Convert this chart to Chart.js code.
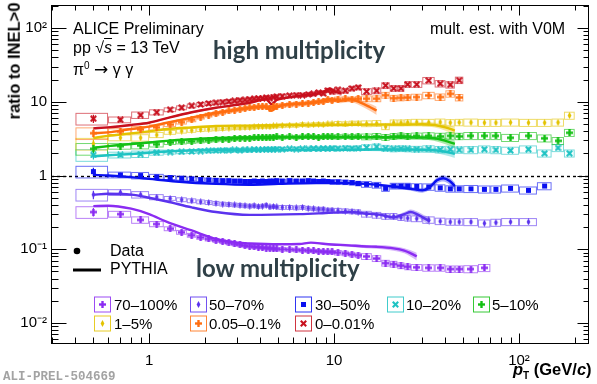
<!DOCTYPE html>
<html>
<head>
<meta charset="utf-8">
<script src="https://cdn.jsdelivr.net/npm/chart.js@4.4.1/dist/chart.umd.min.js"></script>
<style>
  html, body { margin: 0; padding: 0; background: #fff; }
  #wrap { position: relative; width: 597px; height: 384px; overflow: hidden;
          font-family: "Liberation Sans", Arial, sans-serif; color: #000; }
  #c { position: absolute; left: 0; top: 0; }
  .t { position: absolute; white-space: nowrap; line-height: 1; }
  .big { font-family: Lato, "Open Sans", sans-serif; font-weight: 700; color: #2f4047; }
  .leg { font-size: 15px; }
  .arr { font-family: "DejaVu Sans", sans-serif; font-size: 17px; }
</style>
</head>
<body>
<div id="wrap">
  <canvas id="c" width="597" height="384"></canvas>

  <div class="t" style="left:73px;top:21px;font-size:16px;">ALICE Preliminary</div>
  <div class="t" style="left:73px;top:40px;font-size:16px;">pp &#8730;<span style="text-decoration:overline;font-style:italic;">s</span> = 13 TeV</div>
  <div class="t" style="left:73px;top:61px;font-size:16px;">&#960;<sup style="font-size:10px;">0</sup> <span class="arr">&#8594;</span> &#947; &#947;</div>
  <div class="t" style="left:430px;top:21px;font-size:16px;">mult. est. with V0M</div>

  <div class="t big" id="hiLab" data-w="172" style="left:213px;top:38px;font-size:21px;">high multiplicity</div>
  <div class="t big" id="loLab" data-w="164" style="left:196px;top:256px;font-size:21px;">low multiplicity</div>

  <div class="t" style="left:110px;top:243px;font-size:16px;">Data</div>
  <div class="t" style="left:110px;top:261px;font-size:16px;">PYTHIA</div>

  <div class="t leg" style="left:114px;top:297px;">70–100%</div>
  <div class="t leg" style="left:209px;top:297px;">50–70%</div>
  <div class="t leg" style="left:315px;top:297px;">30–50%</div>
  <div class="t leg" style="left:406px;top:297px;">10–20%</div>
  <div class="t leg" style="left:492px;top:297px;">5–10%</div>
  <div class="t leg" style="left:114px;top:316px;">1–5%</div>
  <div class="t leg" style="left:209px;top:316px;">0.05–0.1%</div>
  <div class="t leg" style="left:315px;top:316px;">0–0.01%</div>

  <div class="t" style="left:14px;top:61px;font-size:16.5px;font-weight:bold;transform:translate(-50%,-50%) rotate(-90deg);">ratio to INEL&gt;0</div>
  <div class="t" style="left:513px;top:361px;font-size:16.5px;font-weight:bold;"><i>p</i><sub style="font-size:10px;">T</sub> (GeV/<i>c</i>)</div>
  <div class="t" style="left:3px;top:371px;font-size:12.5px;font-weight:bold;font-family:'Liberation Mono',monospace;color:#a3a3a3;">ALI-PREL-504669</div>
</div>

<script>
// pT bin edges (GeV/c) shared by all multiplicity classes
const binEdges = [0.4,0.6,0.8,1.0,1.2,1.4,1.6,1.8,2.0,2.2,2.4,2.6,2.8,3.0,3.2,3.4,3.6,3.8,4.0,4.2,4.4,4.6,4.8,5.0,
  5.5,6.0,6.5,7.0,7.5,8.0,8.5,9.0,9.5,10,11,12,13,14,16,18,20,22,24,26,30,35,40,45,50,60,70,80,100,125,150,175,200];

// relative statistical and systematic uncertainties per bin
const statErr = [0.13,0.07,0.05,0.04,
  0.03,0.03,0.03,0.03,0.03,0.03,0.03,0.03,0.03,0.03,0.03,0.03,0.03,0.03,0.03,0.03,0.03,0.03,0.03,
  0.03,0.03,0.03,0.03,0.03,0.03,0.03,0.03,0.03,0.03,
  0.035,0.035,0.035,0.035,
  0.04,0.04,0.04,0.04,0.04,0.04,0.04,
  0.05,0.05,0.05,0.05,
  0.06,0.06,0.06,0.06,0.06,0.06,0.06,0.06];
const sysErr = [0.18,0.09,0.1,0.08,
  0.06,0.06,0.06,0.06,0.06,0.06,0.06,0.06,0.06,0.06,0.06,0.06,0.06,0.06,0.06,0.06,0.06,0.06,0.06,
  0.06,0.06,0.06,0.06,0.06,0.06,0.06,0.06,0.06,0.06,
  0.07,0.07,0.07,0.07,
  0.09,0.09,0.09,0.09,0.09,0.09,0.09,
  0.1,0.1,0.1,0.1,
  0.11,0.11,0.11,0.11,0.11,0.11,0.11,0.11];

// measured ratio to INEL>0, one value per bin from the first bin onwards
const ratio70to100 = [0.32,0.3,0.25,0.22,0.19,0.17,0.155,0.145, 0.138,0.132,0.127,0.122,0.118,0.115,0.112,0.11,
  0.108,0.107,0.105,0.104,0.103,0.102,0.101,0.1, 0.099,0.098,0.097,0.096,0.095,0.094,0.093,0.092,
  0.092,0.09,0.088,0.085,0.083,0.08,0.075,0.065, 0.063,0.06,0.058,0.057,0.056,0.056,0.054,0.054, 0.054,0.056];
const ratio50to70 = [0.55,0.59,0.55,0.51,0.49,0.47,0.455,0.44, 0.43,0.42,0.41,0.405,0.4,0.395,0.39,0.385,
  0.39,0.38,0.385,0.395,0.375,0.38,0.375,0.37, 0.37,0.365,0.37,0.36,0.355,0.35,0.35,0.34,
  0.34,0.335,0.33,0.325,0.32,0.3,0.29,0.28, 0.28,0.27,0.265,0.26,0.25,0.24,0.235,0.235, 0.235,0.225,0.23,0.235,0.235];
const ratio30to50 = [1.13,1.02,1.0,0.96,0.94,0.92,0.9,0.88, 0.87,0.86,0.85,0.85,0.84,0.84,0.83,0.83,
  0.84,0.83,0.84,0.83,0.84,0.84,0.85,0.84, 0.85,0.84,0.84,0.85,0.84,0.83,0.84,0.83,
  0.82,0.82,0.81,0.8,0.78,0.76,0.74,0.67, 0.72,0.72,0.72,0.71,0.7,0.68,0.66,0.66, 0.66,0.65,0.65,0.67,0.63,0.72];
const ratio10to20 = [1.9,1.9,1.95,2.05,2.08,2.1,2.12,2.15, 2.17,2.18,2.2,2.2,2.22,2.2,2.23,2.22,
  2.25,2.23,2.25,2.27,2.25,2.27,2.28,2.27, 2.3,2.28,2.3,2.29,2.32,2.3,2.33,2.31,
  2.35,2.32,2.35,2.33,2.35,2.4,2.45,2.35, 2.3,2.32,2.3,2.28,2.3,2.25,2.27,2.22,
  2.22,2.27,2.22,2.18,2.27,2.0,2.37,2.0];
const ratio5to10 = [2.3,2.5,2.55,2.65,2.8,2.85,2.9,2.95, 3.0,3.05,3.1,3.1,3.15,3.2,3.2,3.2,
  3.25,3.25,3.3,3.25,3.3,3.3,3.35,3.3, 3.35,3.3,3.35,3.4,3.35,3.3,3.35,3.4,
  3.35,3.35,3.4,3.35,3.4,3.35,3.4,3.3, 3.4,3.45,3.4,3.45,3.45,3.4,3.45,3.4,
  3.45,3.45,3.45,3.25,3.45,3.2,2.95,3.8];
const ratio1to5 = [2.7,3.25,3.25,3.55,3.85,4.0,4.1,4.2, 4.25,4.3,4.35,4.4,4.45,4.45,4.5,4.5,
  4.55,4.6,4.6,4.65,4.6,4.7,4.7,4.75, 4.8,4.8,4.9,4.85,4.9,4.95,4.9,5.0,
  5.0,5.05,5.0,5.1,5.1,5.05,5.1,4.6, 5.2,5.2,5.25,5.3,5.25,5.3,5.2,5.25,
  5.25,5.2,5.2,5.25,5.2,5.2,5.25,6.5];
const ratio005to01 = [3.75,3.95,4.2,4.5,4.9,5.3,5.7,6.2, 6.6,6.9,7.2,7.5,7.7,7.9,8.1,8.3,
  8.4,8.5,8.6,8.6,8.2,8.6,8.7,8.9, 9.1,9.3,9.4,9.6,9.8,10.0,10.1,10.6,
  10.4,10.8,10.9,10.8,11.0,11.0,11.0,12.3, 11.2,11.3,11.4,11.6,12.2,11.6,12.8,11.4];
const ratio0to001 = [5.9,5.7,6.6,7.2,7.8,8.3,8.8,9.2, 9.5,9.7,9.9,10.1,10.3,10.5,10.6,10.8,
  11.0,11.1,11.2,11.4,11.2,11.6,11.7,11.9, 12.1,12.3,12.3,12.6,12.8,13.3,13.0,14.2,
  13.6,14.5,14.1,15.1,15.6,13.8,14.1,16.6, 15.2,15.2,17.2,17.2,19.4,17.6,17.0,19.6];

// PYTHIA predictions: pT, ratio and relative band half-width
const pyPt70to100 = [0.5,0.6,0.8,1.0,1.25,1.7,2.3,3.0,3.5,5,6.5,7.5,9,12,15,17,21,24,26,28];
const py70to100   = [0.385,0.39,0.355,0.3,0.235,0.18,0.138,0.123,0.12,0.117,0.118,0.123,0.118,0.113,0.109,0.108,0.103,0.096,0.088,0.08];
const pyBand70to100 = [0.02,0.02,0.02,0.02,0.02,0.02,0.02,0.02,0.02,0.02,0.02,0.02,0.03,0.04,0.05,0.06,0.07,0.08,0.1,0.12];

const pyPt50to70 = [0.5,0.6,0.8,1.0,1.25,1.7,2.3,3.5,6.5,9,12,15,18,21,24,26,28,31,33];
const py50to70   = [0.55,0.565,0.55,0.5,0.445,0.37,0.32,0.293,0.3,0.31,0.32,0.305,0.293,0.27,0.3,0.32,0.3,0.26,0.24];
const pyBand50to70 = [0.02,0.02,0.02,0.02,0.02,0.02,0.02,0.02,0.02,0.02,0.03,0.04,0.05,0.06,0.07,0.08,0.09,0.1,0.12];

const pyPt30to50 = [0.5,0.6,0.8,1.0,1.4,2.3,3.5,5,8,12,15,18,22,26,30,33,36,39,42,45];
const py30to50   = [1.02,1.0,0.95,0.9,0.83,0.77,0.75,0.77,0.79,0.79,0.77,0.74,0.7,0.66,0.63,0.7,0.86,0.92,0.85,0.72];
const pyBand30to50 = [0.02,0.02,0.02,0.02,0.02,0.02,0.02,0.02,0.02,0.02,0.03,0.04,0.05,0.06,0.07,0.08,0.09,0.1,0.11,0.12];

const pyPtMid = [0.5,0.6,0.8,1.0,1.25,1.7,2.3,3.4,5,8,12,18,25,30,35,40,45];
const py10to20 = [1.82,1.88,1.96,2.04,2.12,2.18,2.22,2.22,2.23,2.23,2.24,2.25,2.25,2.24,2.2,2.1,1.97];
const py5to10  = [2.37,2.5,2.68,2.8,2.95,3.1,3.22,3.28,3.3,3.3,3.3,3.3,3.3,3.28,3.2,2.95,2.68];
const py1to5   = [3.23,3.45,3.73,3.97,4.27,4.5,4.7,4.75,4.8,4.85,4.88,4.9,4.92,4.95,4.85,4.5,4.06];
const pyBandMid = [0.03,0.03,0.03,0.03,0.03,0.03,0.03,0.03,0.03,0.03,0.04,0.05,0.06,0.07,0.08,0.1,0.12];

const pyPt005to01 = [0.5,0.6,0.8,1.0,1.25,1.7,2.3,3.0,3.5,4.0,4.3,4.6,4.9,5.5,7.0,8.0,9.5,10.8,12.2,13.8,15.6,17];
const py005to01   = [3.73,3.85,4.27,4.6,5.2,6.1,7.1,7.8,8.3,8.6,8.4,7.55,8.4,9.2,9.5,9.9,10.8,10.3,10.8,9.8,8.5,7.6];
const pyBand005to01 = [0.03,0.03,0.03,0.03,0.03,0.03,0.03,0.03,0.03,0.03,0.03,0.03,0.04,0.04,0.05,0.05,0.06,0.07,0.08,0.09,0.11,0.13];

const pyPt0to001 = [0.5,0.6,0.8,1.0,1.25,1.7,2.3,3.0,3.5,4.0,4.3,4.6,4.9,5.5,7.0,8.0,8.8,9.5,10.2,11.0];
const py0to001   = [4.36,4.5,4.85,5.2,6.0,7.2,8.3,9.1,9.7,10.5,10.8,9.3,10.6,11.3,12.3,12.8,13.8,15.0,13.6,12.9];
const pyBand0to001 = [0.03,0.03,0.03,0.03,0.03,0.03,0.03,0.03,0.03,0.03,0.03,0.03,0.03,0.03,0.04,0.05,0.05,0.06,0.07,0.08];

// axis tick labels
const xTickLabels = {'1': '1', '10': '10', '100': '10²'};
const yTickLabels = {'0.01': '10⁻²', '0.1': '10⁻¹', '1': '1', '10': '10', '100': '10²'};

// multiplicity classes: legend text, colour, marker shape and the arrays above
const classes = [
  { name: '70–100%',   color: '#8b2cf2', shape: 'plus',    values: ratio70to100, pyPt: pyPt70to100, py: py70to100, band: pyBand70to100 },
  { name: '50–70%',    color: '#5b33ee', shape: 'diamond', values: ratio50to70,  pyPt: pyPt50to70,  py: py50to70,  band: pyBand50to70 },
  { name: '30–50%',    color: '#0a10f0', shape: 'square',  values: ratio30to50,  pyPt: pyPt30to50,  py: py30to50,  band: pyBand30to50 },
  { name: '10–20%',    color: '#1fc3c3', shape: 'x',       values: ratio10to20,  pyPt: pyPtMid,     py: py10to20,  band: pyBandMid },
  { name: '5–10%',     color: '#14c014', shape: 'plus',    values: ratio5to10,   pyPt: pyPtMid,     py: py5to10,   band: pyBandMid },
  { name: '1–5%',      color: '#e3c300', shape: 'diamond', values: ratio1to5,    pyPt: pyPtMid,     py: py1to5,    band: pyBandMid },
  { name: '0.05–0.1%', color: '#ff6e10', shape: 'plus',    values: ratio005to01, pyPt: pyPt005to01, py: py005to01, band: pyBand005to01 },
  { name: '0–0.01%',   color: '#c8101e', shape: 'x',       values: ratio0to001,  pyPt: pyPt0to001,  py: py0to001,  band: pyBand0to001 }
];

// legend slot (left edge of marker box, row centre) for each class
const legendSlots = [[94,304.5],[190,304.5],[295,304.5],[387,304.5],[473,304.5],[94,323.5],[190,323.5],[295,323.5]];

function rgba(hex, a) {
  const n = parseInt(hex.slice(1), 16);
  return `rgba(${(n >> 16) & 255},${(n >> 8) & 255},${n & 255},${a})`;
}

// small bitmap point styles
function makeMarker(shape, color, size) {
  const c = document.createElement('canvas');
  c.width = size; c.height = size;
  const g = c.getContext('2d');
  g.fillStyle = color;
  const m = size / 2;
  if (shape === 'plus') {
    const w = size * 0.34;
    g.fillRect(m - w / 2, 0, w, size);
    g.fillRect(0, m - w / 2, size, w);
  } else if (shape === 'x') {
    g.translate(m, m); g.rotate(Math.PI / 4);
    const w = size * 0.3, L = size * 0.55;
    g.fillRect(-w / 2, -L, w, 2 * L);
    g.fillRect(-L, -w / 2, 2 * L, w);
  } else if (shape === 'diamond') {
    g.beginPath();
    g.moveTo(m, 0); g.lineTo(m + size * 0.27, m); g.lineTo(m, size); g.lineTo(m - size * 0.27, m);
    g.closePath(); g.fill();
  } else if (shape === 'square') {
    g.fillRect(1, 1, size - 2, size - 2);
  }
  return c;
}

const binCentres = binEdges.slice(0, -1).map((e, i) => (e + binEdges[i + 1]) / 2);

const datasets = [];
classes.forEach(cl => {
  cl.img = makeMarker(cl.shape, cl.color, 7);
  const lo = cl.pyPt.map((p, k) => ({ x: p, y: cl.py[k] * (1 - cl.band[k]) }));
  const hi = cl.pyPt.map((p, k) => ({ x: p, y: cl.py[k] * (1 + cl.band[k]) }));
  datasets.push({ data: lo, borderWidth: 0, pointRadius: 0, fill: false, order: 4,
                  cubicInterpolationMode: 'monotone', borderColor: 'rgba(0,0,0,0)' });
  datasets.push({ data: hi, borderWidth: 0, pointRadius: 0, fill: '-1', order: 4,
                  backgroundColor: rgba(cl.color, 0.35), cubicInterpolationMode: 'monotone', borderColor: 'rgba(0,0,0,0)' });
  datasets.push({ data: cl.pyPt.map((p, k) => ({ x: p, y: cl.py[k] })), borderColor: cl.color, borderWidth: 2.4,
                  pointRadius: 0, fill: false, order: 3, cubicInterpolationMode: 'monotone' });
  datasets.push({ data: cl.values.map((v, i) => ({ x: binCentres[i], y: v })), showLine: false,
                  pointStyle: cl.img, pointRadius: 4, order: 1 });
});

function isDecade(v) {
  const l = Math.log10(v);
  return Math.abs(l - Math.round(l)) < 1e-6;
}
function decadeKey(v) { return String(Math.pow(10, Math.round(Math.log10(v)))); }

const decor = {
  id: 'decor',
  beforeDatasetsDraw(chart) {
    const { ctx, chartArea: a, scales: { x, y } } = chart;
    ctx.save();
    ctx.beginPath(); ctx.rect(a.left, a.top, a.right - a.left, a.bottom - a.top); ctx.clip();
    // reference line at unity
    ctx.strokeStyle = '#000'; ctx.lineWidth = 1.4; ctx.setLineDash([3, 3]);
    const y1 = Math.round(y.getPixelForValue(1)) + 0.5;
    ctx.beginPath(); ctx.moveTo(a.left, y1); ctx.lineTo(a.right, y1); ctx.stroke();
    ctx.setLineDash([]);
    // systematic boxes and statistical bars
    classes.forEach(cl => {
      ctx.strokeStyle = rgba(cl.color, 0.6); ctx.lineWidth = 1;
      cl.values.forEach((v, i) => {
        const x0 = x.getPixelForValue(binEdges[i]), x1 = x.getPixelForValue(binEdges[i + 1]);
        const yt = y.getPixelForValue(v * (1 + sysErr[i])), yb = y.getPixelForValue(v * (1 - sysErr[i]));
        ctx.strokeRect(x0 + 0.5, yt, x1 - x0 - 1, yb - yt);
      });
      ctx.strokeStyle = cl.color; ctx.lineWidth = 1.2;
      cl.values.forEach((v, i) => {
        const xc = x.getPixelForValue(binCentres[i]);
        ctx.beginPath();
        ctx.moveTo(xc, y.getPixelForValue(v * (1 + statErr[i])));
        ctx.lineTo(xc, y.getPixelForValue(v * (1 - statErr[i])));
        ctx.stroke();
      });
    });
    ctx.restore();
  },
  afterDraw(chart) {
    const { ctx, chartArea: a, scales: { x, y } } = chart;
    ctx.save();
    ctx.strokeStyle = '#000'; ctx.lineWidth = 1;
    const L = Math.round(a.left) + 0.5, R = Math.round(a.right) - 0.5;
    const T = Math.round(a.top) + 0.5, B = Math.round(a.bottom) - 0.5;
    ctx.strokeRect(L, T, R - L, B - T);
    ctx.beginPath();
    for (let d = -1; d <= 2; d++) {
      for (let m = 1; m <= 9; m++) {
        const v = m * Math.pow(10, d);
        if (v < x.min || v > x.max) continue;
        const px = Math.round(x.getPixelForValue(v)) + 0.5;
        const len = m === 1 ? 10 : 6;
        ctx.moveTo(px, B); ctx.lineTo(px, B - len);
        ctx.moveTo(px, T); ctx.lineTo(px, T + (m === 1 ? 10 : 5));
      }
    }
    for (let d = -3; d <= 2; d++) {
      for (let m = 1; m <= 9; m++) {
        const v = m * Math.pow(10, d);
        if (v < y.min || v > y.max) continue;
        const py = Math.round(y.getPixelForValue(v)) + 0.5;
        ctx.moveTo(L, py); ctx.lineTo(L + (m === 1 ? 15 : 7), py);
        ctx.moveTo(R, py); ctx.lineTo(R - (m === 1 ? 11 : 5), py);
      }
    }
    ctx.stroke();

    // legend: data dot and model line
    ctx.fillStyle = '#000';
    ctx.beginPath(); ctx.arc(77, 251, 3.3, 0, Math.PI * 2); ctx.fill();
    ctx.lineWidth = 3; ctx.beginPath(); ctx.moveTo(73, 270); ctx.lineTo(101, 270); ctx.stroke();

    // legend: class markers inside their boxes
    classes.forEach((cl, i) => {
      const [lx, cy] = legendSlots[i];
      ctx.strokeStyle = rgba(cl.color, 0.85); ctx.lineWidth = 1;
      ctx.strokeRect(lx + 0.5, cy - 7.5, 16, 15);
      ctx.drawImage(cl.img, lx + 8.5 - cl.img.width / 2, cy - cl.img.height / 2);
    });
    ctx.restore();
  }
};

new Chart(document.getElementById('c'), {
  type: 'line',
  data: { datasets },
  options: {
    responsive: false,
    animation: false,
    events: [],
    layout: { padding: { left: 0, right: 8, top: 4, bottom: 0 } },
    plugins: { legend: { display: false }, tooltip: { enabled: false } },
    scales: {
      x: {
        type: 'logarithmic', min: 0.295, max: 239,
        grid: { display: false, drawTicks: false }, border: { display: false },
        afterFit: s => { s.height = 40; s.paddingLeft = 0; s.paddingRight = 0; },
        ticks: {
          autoSkip: false, maxRotation: 0, padding: 8, color: '#000',
          font: { family: 'Liberation Sans', size: 15 },
          callback: v => (isDecade(v) && xTickLabels[decadeKey(v)]) || ''
        }
      },
      y: {
        type: 'logarithmic', min: 0.0052, max: 205,
        grid: { display: false, drawTicks: false }, border: { display: false },
        afterFit: s => { s.width = 51; s.paddingTop = 0; s.paddingBottom = 0; },
        ticks: {
          autoSkip: false, padding: 4, color: '#000',
          font: { family: 'Liberation Sans', size: 15 },
          callback: v => (isDecade(v) && yTickLabels[decadeKey(v)]) || ''
        }
      }
    }
  },
  plugins: [decor]
});

// fit the two headline labels to their intended widths
document.querySelectorAll('.big').forEach(el => {
  const target = parseFloat(el.dataset.w);
  const fs = parseFloat(el.style.fontSize);
  el.style.fontSize = (fs * target / el.offsetWidth).toFixed(2) + 'px';
});
</script>
</body>
</html>
